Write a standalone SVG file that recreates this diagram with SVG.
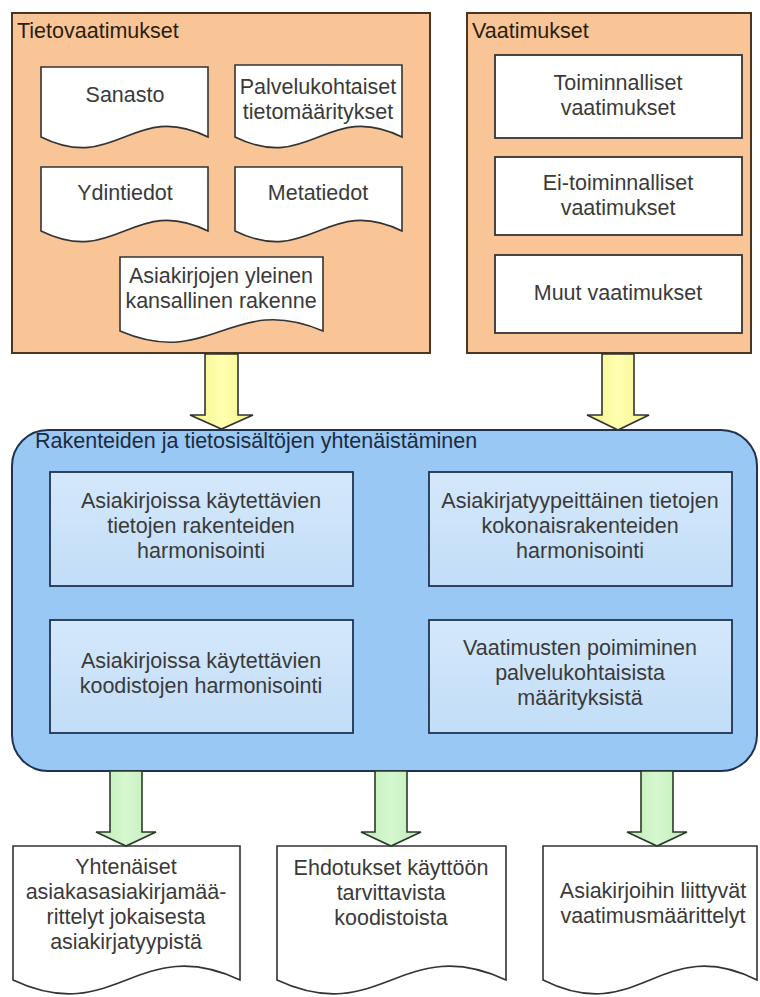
<svg xmlns="http://www.w3.org/2000/svg" width="760" height="997" viewBox="0 0 760 997">
  <defs>
    <linearGradient id="yellowFill" x1="0" y1="0" x2="1" y2="0">
      <stop offset="0" stop-color="#F2F28A"/>
      <stop offset="0.5" stop-color="#FFFFB0"/>
      <stop offset="1" stop-color="#F2F28A"/>
    </linearGradient>
    <linearGradient id="greenFill" x1="0" y1="0" x2="1" y2="0">
      <stop offset="0" stop-color="#BDEBB4"/>
      <stop offset="0.5" stop-color="#D6F8D0"/>
      <stop offset="1" stop-color="#BDEBB4"/>
    </linearGradient>
    <linearGradient id="innerBlue" x1="0" y1="0" x2="0" y2="1">
      <stop offset="0" stop-color="#D4E8FB"/>
      <stop offset="1" stop-color="#C2DDF7"/>
    </linearGradient>
  </defs>
  <style>
    .group { fill: #F9C596; stroke: #4A3520; stroke-width: 2; }
    .doc { fill: #FFFFFF; stroke: #333333; stroke-width: 1.6; }
    .box { fill: #FFFFFF; stroke: #333333; stroke-width: 1.8; }
    .blue { fill: #9AC8F5; stroke: #1F3350; stroke-width: 2; }
    .iblue { fill: url(#innerBlue); stroke: #1F3350; stroke-width: 1.8; }
    .yarrow { fill: url(#yellowFill); stroke: #333333; stroke-width: 1.6; }
    .garrow { fill: url(#greenFill); stroke: #2A3A2A; stroke-width: 1.6; }
    text { font-family: "Liberation Sans", Arial, sans-serif; font-size: 21.5px; fill: #3A3A3A; }
    .c { text-anchor: middle; }
    .hdr { fill: #2A1E10; }
    .bhdr { fill: #1C2B40; }
  </style>

  <!-- Tietovaatimukset group -->
  <g id="tietovaatimukset">
    <rect class="group" x="12" y="13" width="418" height="340"/>
    <text class="hdr" x="17" y="38">Tietovaatimukset</text>
  </g>
  <g id="sanasto">
    <path class="doc" d="M41 67 H208 V137 C133 100 116 174 41 137 Z"/>
    <text class="c" x="125" y="102">Sanasto</text>
  </g>
  <g id="palvelukohtaiset">
    <path class="doc" d="M235 65 H402 V137 C327 100 310 174 235 137 Z"/>
    <text class="c" x="318" y="94">Palvelukohtaiset</text>
    <text class="c" x="318" y="119">tietomääritykset</text>
  </g>
  <g id="ydintiedot">
    <path class="doc" d="M41 167 H208 V231 C133 194 116 268 41 231 Z"/>
    <text class="c" x="125" y="200">Ydintiedot</text>
  </g>
  <g id="metatiedot">
    <path class="doc" d="M235 167 H402 V231 C327 194 310 268 235 231 Z"/>
    <text class="c" x="318" y="200">Metatiedot</text>
  </g>
  <g id="asiakirjojen-rakenne">
    <path class="doc" d="M120 257 H323 V331 C232 292 211 370 120 331 Z"/>
    <text class="c" x="221" y="283">Asiakirjojen yleinen</text>
    <text class="c" x="221" y="308">kansallinen rakenne</text>
  </g>

  <!-- Vaatimukset group -->
  <g id="vaatimukset">
    <rect class="group" x="467" y="13" width="284" height="340"/>
    <text class="hdr" x="472" y="38">Vaatimukset</text>
  </g>
  <g id="toiminnalliset">
    <rect class="box" x="495" y="55" width="247" height="83"/>
    <text class="c" x="618" y="90">Toiminnalliset</text>
    <text class="c" x="618" y="115">vaatimukset</text>
  </g>
  <g id="ei-toiminnalliset">
    <rect class="box" x="495" y="157" width="247" height="78"/>
    <text class="c" x="618" y="190">Ei-toiminnalliset</text>
    <text class="c" x="618" y="215">vaatimukset</text>
  </g>
  <g id="muut">
    <rect class="box" x="495" y="255" width="247" height="78"/>
    <text class="c" x="618" y="300">Muut vaatimukset</text>
  </g>

  <!-- Harmonisation container -->
  <g id="yhtenaistaminen">
    <rect class="blue" x="12" y="430" width="745" height="341" rx="36" ry="36"/>
    <text class="bhdr" x="35" y="448">Rakenteiden ja tietosisältöjen yhtenäistäminen</text>
  </g>
  <g id="rakenteiden-harmonisointi">
    <rect class="iblue" x="50" y="472" width="303" height="114"/>
    <text class="c" x="201" y="508">Asiakirjoissa käytettävien</text>
    <text class="c" x="201" y="533">tietojen rakenteiden</text>
    <text class="c" x="201" y="558">harmonisointi</text>
  </g>
  <g id="kokonaisrakenteiden-harmonisointi">
    <rect class="iblue" x="429" y="472" width="303" height="114"/>
    <text class="c" x="580" y="508">Asiakirjatyypeittäinen tietojen</text>
    <text class="c" x="580" y="533">kokonaisrakenteiden</text>
    <text class="c" x="580" y="558">harmonisointi</text>
  </g>
  <g id="koodistojen-harmonisointi">
    <rect class="iblue" x="50" y="620" width="303" height="113"/>
    <text class="c" x="201" y="668">Asiakirjoissa käytettävien</text>
    <text class="c" x="201" y="693">koodistojen harmonisointi</text>
  </g>
  <g id="vaatimusten-poimiminen">
    <rect class="iblue" x="429" y="620" width="303" height="113"/>
    <text class="c" x="580" y="655">Vaatimusten poimiminen</text>
    <text class="c" x="580" y="680">palvelukohtaisista</text>
    <text class="c" x="580" y="705">määrityksistä</text>
  </g>

  <!-- Output documents -->
  <g id="yhtenaiset-maarittelyt">
    <path class="doc" d="M13 846 H240 V980 C138 932 115 1028 13 980 Z"/>
    <text class="c" x="126" y="874">Yhtenäiset</text>
    <text class="c" x="126" y="899">asiakasasiakirjamää-</text>
    <text class="c" x="126" y="924">rittelyt jokaisesta</text>
    <text class="c" x="126" y="949">asiakirjatyypistä</text>
  </g>
  <g id="ehdotukset-koodistoista">
    <path class="doc" d="M277 846 H506 V980 C403 932 380 1028 277 980 Z"/>
    <text class="c" x="391" y="875">Ehdotukset käyttöön</text>
    <text class="c" x="391" y="900">tarvittavista</text>
    <text class="c" x="391" y="925">koodistoista</text>
  </g>
  <g id="vaatimusmaarittelyt">
    <path class="doc" d="M543 846 H757 V980 C661 932 639 1028 543 980 Z"/>
    <text class="c" x="653" y="898">Asiakirjoihin liittyvät</text>
    <text class="c" x="653" y="923">vaatimusmäärittelyt</text>
  </g>

  <!-- Block arrows between stages -->
  <g id="connectors">
    <path class="yarrow" d="M205 354 V415 H190 L221.5 429 L253 415 H238 V354 Z"/>
    <path class="yarrow" d="M602 354 V415 H587 L618 430 L649 415 H634 V354 Z"/>
    <path class="garrow" d="M110 771 V832 H96 L126 846 L156 832 H142 V771 Z"/>
    <path class="garrow" d="M375 771 V832 H361 L391 846 L421 832 H407 V771 Z"/>
    <path class="garrow" d="M641 771 V832 H627 L657 846 L687 832 H673 V771 Z"/>
  </g>
</svg>
